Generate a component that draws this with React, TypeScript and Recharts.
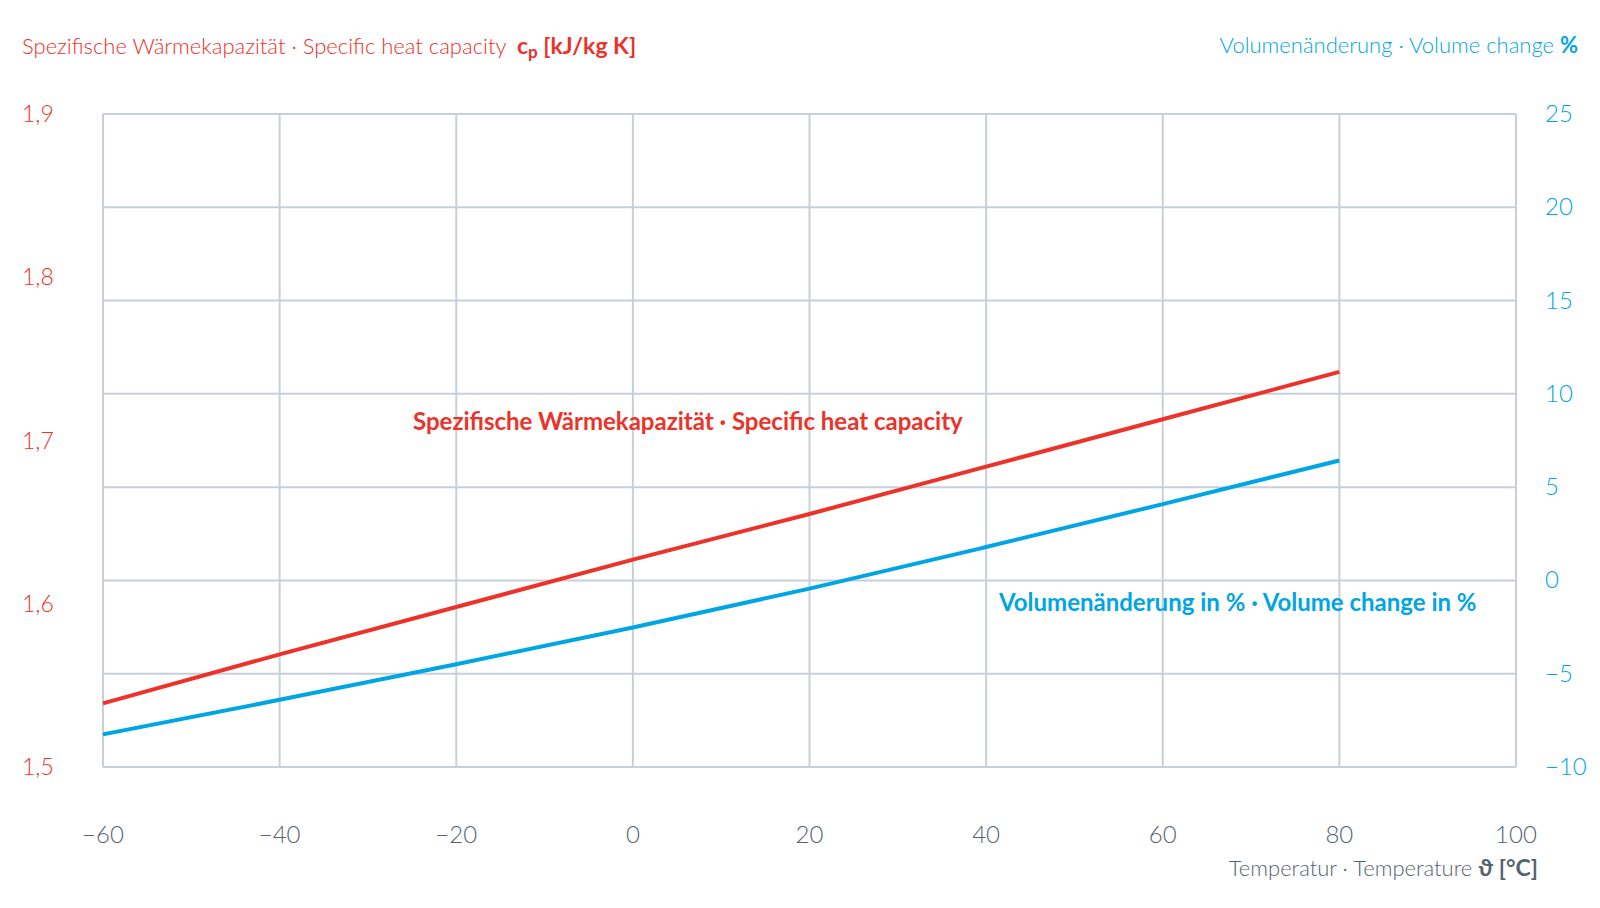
import React from "react";
import { CartesianGrid, Line, LineChart, XAxis, YAxis } from "recharts";

const TEMPS = [-60, -40, -20, 0, 20, 40, 60, 80];
const CP_VALUES = [1.539, 1.569, 1.598, 1.627, 1.655, 1.684, 1.713, 1.742];
const VOLUME_CHANGE = [-8.25, -6.4, -4.49, -2.52, -0.44, 1.79, 4.09, 6.43];

const X_TICKS = [-60, -40, -20, 0, 20, 40, 60, 80, 100];
const CP_TICKS = [1.5, 1.6, 1.7, 1.8, 1.9];
const VOL_TICKS = [-10, -5, 0, 5, 10, 15, 20, 25];

const RED = "#ec3229";
const BLUE = "#00a5e3";
const GREY = "#56636f";
const GRID = "#c7d0d8";
const FONT = "Lato, 'Open Sans', sans-serif";

const data = TEMPS.map((t, i) => ({ t, cp: CP_VALUES[i], vol: VOLUME_CHANGE[i] }));

const fmt = (v: number, decimals = 0) =>
  (v < 0 ? "\u2212" : "") + Math.abs(v).toFixed(decimals).replace(".", ",");

const XTick = (props: any) => (
  <text x={props.x} y={props.y + 76} textAnchor="middle" fill={GREY} fontSize={24} fontWeight={300} fontFamily={FONT}>
    {fmt(props.payload.value)}
  </text>
);

const CpTick = (props: any) => (
  <text x={props.x - 81} y={props.y + 8} textAnchor="start" fill={RED} fontSize={23} fontWeight={300} fontFamily={FONT}>
    {fmt(props.payload.value, 1)}
  </text>
);

const VolTick = (props: any) => (
  <text x={props.x + 29} y={props.y + 8} textAnchor="start" fill={BLUE} fontSize={24} fontWeight={300} fontFamily={FONT}>
    {fmt(props.payload.value)}
  </text>
);

const abs = (style: React.CSSProperties): React.CSSProperties => ({
  position: "absolute",
  whiteSpace: "nowrap",
  fontFamily: FONT,
  fontWeight: 300,
  fontSize: 22,
  lineHeight: 1,
  ...style,
});

export default function App() {
  return (
    <div style={{ position: "absolute", left: 0, top: 0, width: 1600, height: 908, background: "#fff" }}>
      <LineChart width={1600} height={908} data={data} margin={{ top: 114, right: 22, bottom: 101, left: 22 }}>
        <CartesianGrid stroke={GRID} strokeWidth={2} yAxisId="vol" />
        <XAxis
          dataKey="t"
          type="number"
          domain={[-60, 100]}
          ticks={X_TICKS}
          height={40}
          axisLine={false}
          tickLine={false}
          tickSize={0}
          tickMargin={0}
          tick={<XTick />}
          interval={0}
        />
        <YAxis
          yAxisId="cp"
          orientation="left"
          type="number"
          domain={[1.5, 1.9]}
          ticks={CP_TICKS}
          width={81}
          axisLine={false}
          tickLine={false}
          tickSize={0}
          tickMargin={0}
          tick={<CpTick />}
          interval={0}
        />
        <YAxis
          yAxisId="vol"
          orientation="right"
          type="number"
          domain={[-10, 25]}
          ticks={VOL_TICKS}
          width={62}
          axisLine={false}
          tickLine={false}
          tickSize={0}
          tickMargin={0}
          tick={<VolTick />}
          interval={0}
        />
        <Line
          yAxisId="cp"
          dataKey="cp"
          type="linear"
          stroke={RED}
          strokeWidth={4}
          dot={false}
          isAnimationActive={false}
        />
        <Line
          yAxisId="vol"
          dataKey="vol"
          type="monotone"
          stroke={BLUE}
          strokeWidth={4}
          dot={false}
          isAnimationActive={false}
        />
      </LineChart>

      <div style={abs({ left: 22, top: 34, color: RED })}>
        Spezifische Wärmekapazität · Specific heat capacity{" "}
        <span style={{ fontWeight: 700, fontSize: 23, marginLeft: 5 }}>
          c<sub style={{ fontSize: 17, verticalAlign: -4 }}>p</sub> [kJ/kg K]
        </span>
      </div>
      <div style={abs({ right: 22, top: 34, color: BLUE })}>
        Volumenänderung · Volume change <span style={{ fontWeight: 700 }}>%</span>
      </div>
      <div style={abs({ left: 413, top: 409, color: RED, fontWeight: 700, fontSize: 24 })}>
        Spezifische Wärmekapazität · Specific heat capacity
      </div>
      <div style={abs({ left: 999, top: 590, color: BLUE, fontWeight: 700, fontSize: 24 })}>
        Volumenänderung in % · Volume change in %
      </div>
      <div style={abs({ right: 62, top: 856, color: GREY })}>
        Temperatur · Temperature <span style={{ fontWeight: 700, fontSize: 23 }}>ϑ [°C]</span>
      </div>
    </div>
  );
}
